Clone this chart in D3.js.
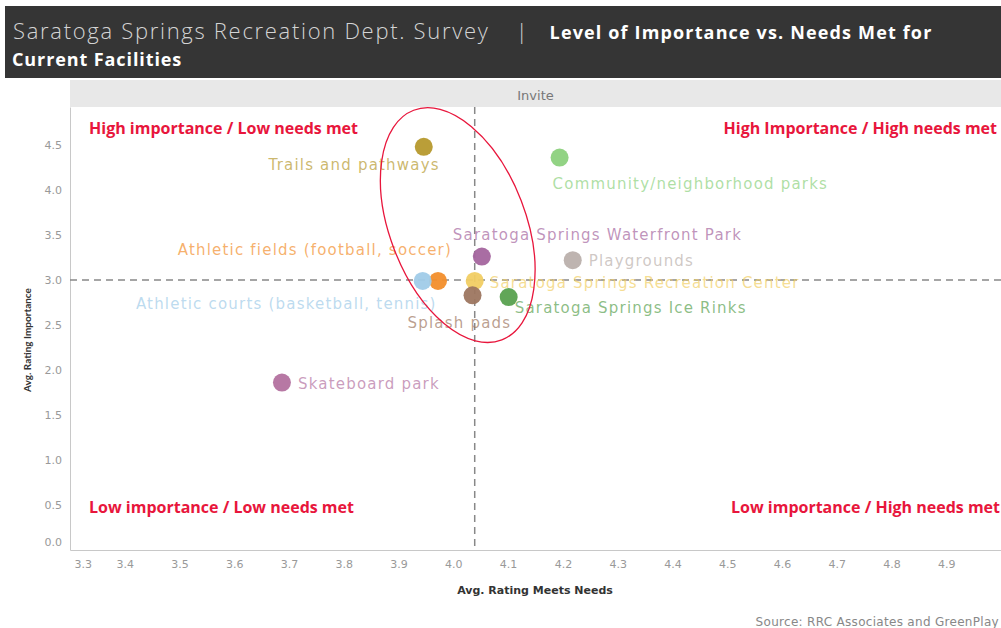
<!DOCTYPE html>
<html>
<head>
<meta charset="utf-8">
<script src="https://cdn.jsdelivr.net/npm/d3@7"></script>
<style>
  body { margin: 0; background: #fff; }
  svg { display: block; }
</style>
</head>
<body>
<div id="chart"></div>
<script>
  // data
  var facilities = [
    'Trails and pathways',
    'Community/neighborhood parks',
    'Saratoga Springs Waterfront Park',
    'Playgrounds',
    'Athletic fields (football, soccer)',
    'Athletic courts (basketball, tennis)',
    'Saratoga Springs Recreation Center',
    'Splash pads',
    'Saratoga Springs Ice Rinks',
    'Skateboard park'
  ];
  var needsMet   = [3.946, 4.194, 4.052, 4.218, 3.972, 3.944, 4.039, 4.035, 4.101, 3.687];
  var importance = [4.48, 4.36, 3.26, 3.22, 2.99, 2.99, 2.99, 2.83, 2.81, 1.86];
  var xTicks = [3.3, 3.4, 3.5, 3.6, 3.7, 3.8, 3.9, 4.0, 4.1, 4.2, 4.3, 4.4, 4.5, 4.6, 4.7, 4.8, 4.9];
  var yTicks = [0, 0.5, 1, 1.5, 2, 2.5, 3, 3.5, 4, 4.5];
  var avgNeedsMet = 4.039;
  var avgImportance = 3.0;
  var quadrants = [
    'High importance / Low needs met',
    'High Importance / High needs met',
    'Low importance / Low needs met',
    'Low importance / High needs met'
  ];

  var palette = ['#B6992D', '#8CD17D', '#A4659E', '#BAB0AC', '#F28E2B',
                 '#A0CBE8', '#F1CE63', '#9D7660', '#59A14F', '#B3719F'];

  // label placement relative to each mark (px)
  var labelPos = [
    {dx: 16, dy: 23, anchor: 'end'},
    {dx: -7, dy: 31, anchor: 'start'},
    {dx: -29, dy: -17, anchor: 'start'},
    {dx: 16, dy: 6, anchor: 'start'},
    {dx: 14, dy: -26, anchor: 'end'},
    {dx: 14, dy: 28, anchor: 'end'},
    {dx: 15, dy: 7, anchor: 'start'},
    {dx: -65, dy: 33, anchor: 'start'},
    {dx: 6, dy: 16, anchor: 'start'},
    {dx: 16, dy: 6, anchor: 'start'}
  ];

  var width = 1001, height = 628;
  var plot = {left: 70, right: 1001, top: 107, bottom: 550};
  var sans = '"Open Sans", sans-serif';
  var wide = '"DejaVu Sans", sans-serif';

  var svg = d3.select('#chart').append('svg')
      .attr('width', width)
      .attr('height', height)
      .style('font-family', sans);

  // header band
  svg.append('rect')
    .attr('x', 5).attr('y', 6).attr('width', width - 5).attr('height', 72)
    .attr('fill', '#353535');
  var title = svg.append('text')
    .attr('x', 13).attr('y', 39);
  title.append('tspan').attr('fill', '#d4d4d4')
    .style('font-weight', 300).style('font-size', '22px').style('letter-spacing', '1.7px')
    .text('Saratoga Springs Recreation Dept. Survey');
  title.append('tspan').attr('fill', '#d4d4d4').attr('dx', 26)
    .style('font-weight', 300).style('font-size', '22px')
    .text('|');
  title.append('tspan').attr('fill', '#fff').attr('dx', 22)
    .style('font-weight', 'bold').style('font-size', '18px').style('letter-spacing', '1.15px')
    .text('Level of Importance vs. Needs Met for');
  svg.append('text')
    .attr('x', 12).attr('y', 66)
    .attr('fill', '#fff')
    .style('font-weight', 'bold').style('font-size', '18px').style('letter-spacing', '0.9px')
    .text('Current Facilities');

  // pane header
  svg.append('rect')
    .attr('x', plot.left).attr('y', 80)
    .attr('width', plot.right - plot.left).attr('height', plot.top - 80)
    .attr('fill', '#e8e8e8');
  svg.append('text')
    .attr('x', (plot.left + plot.right) / 2).attr('y', 100)
    .attr('text-anchor', 'middle')
    .attr('fill', '#777')
    .style('font-family', wide)
    .style('font-size', '13px')
    .text('Invite');

  var x = d3.scaleLinear().domain([3.3, 5.0]).range([plot.left, plot.right]);
  var y = d3.scaleLinear().domain([0, 4.922]).range([plot.bottom, plot.top]);

  // axes
  var xAxis = svg.append('g')
    .attr('transform', 'translate(0,' + plot.bottom + ')')
    .call(d3.axisBottom(x).tickValues(xTicks).tickSize(0).tickPadding(10)
      .tickFormat(d3.format('.1f')));
  xAxis.select('.domain').attr('stroke', '#c8c8c8');
  xAxis.selectAll('text')
    .attr('fill', '#999')
    .style('font-family', wide)
    .style('font-size', '11px')
    .filter(function(d) { return d === 3.3; })
    .attr('text-anchor', 'start')
    .attr('dx', 4);

  var yAxis = svg.append('g')
    .attr('transform', 'translate(' + plot.left + ',0)')
    .call(d3.axisLeft(y).tickValues(yTicks).tickSize(0).tickPadding(8)
      .tickFormat(d3.format('.1f')));
  yAxis.select('.domain').attr('stroke', '#c8c8c8');
  yAxis.selectAll('text')
    .attr('fill', '#999')
    .style('font-family', wide)
    .style('font-size', '11px')
    .filter(function(d) { return d === 0; })
    .attr('dy', '-0.4em');

  svg.append('text')
    .attr('transform', 'translate(31,' + 340 + ') rotate(-90)')
    .attr('text-anchor', 'middle')
    .attr('fill', '#333')
    .style('font-family', 'Lato, sans-serif')
    .style('font-size', '10px').style('font-weight', 'bold')
    .text('Avg. Rating Importance');
  svg.append('text')
    .attr('x', 535).attr('y', 594)
    .attr('text-anchor', 'middle')
    .attr('fill', '#333')
    .style('font-family', wide)
    .style('font-size', '11px').style('font-weight', 'bold')
    .text('Avg. Rating Meets Needs');
  svg.append('text')
    .attr('x', 999).attr('y', 626)
    .attr('text-anchor', 'end')
    .attr('fill', '#888')
    .style('font-family', wide)
    .style('font-size', '12px').style('letter-spacing', '0.3px')
    .text('Source: RRC Associates and GreenPlay');

  // reference lines
  svg.append('line')
    .attr('x1', x(avgNeedsMet)).attr('x2', x(avgNeedsMet))
    .attr('y1', plot.top).attr('y2', plot.bottom)
    .attr('stroke', '#888').attr('stroke-width', 1.5)
    .attr('stroke-dasharray', '7,5');
  svg.append('line')
    .attr('x1', plot.left).attr('x2', plot.right)
    .attr('y1', y(avgImportance)).attr('y2', y(avgImportance))
    .attr('stroke', '#888').attr('stroke-width', 1.5)
    .attr('stroke-dasharray', '7,5');

  // quadrant captions
  var qPos = [
    {x: 89, y: 134, anchor: 'start'},
    {x: 997, y: 134, anchor: 'end'},
    {x: 89, y: 513, anchor: 'start'},
    {x: 1000, y: 513, anchor: 'end'}
  ];
  svg.selectAll('.quad')
    .data(quadrants)
    .enter().append('text')
    .attr('class', 'quad')
    .attr('x', function(d, i) { return qPos[i].x; })
    .attr('y', function(d, i) { return qPos[i].y; })
    .attr('text-anchor', function(d, i) { return qPos[i].anchor; })
    .attr('fill', '#E8163C')
    .style('font-size', '16px').style('font-weight', 'bold')
    .text(function(d) { return d; });

  var points = facilities.map(function(name, i) {
    return {name: name, x: needsMet[i], y: importance[i], color: palette[i], lp: labelPos[i]};
  });

  // labels
  svg.selectAll('.lbl')
    .data(points)
    .enter().append('text')
    .attr('class', 'lbl')
    .attr('x', function(d) { return x(d.x) + d.lp.dx; })
    .attr('y', function(d) { return y(d.y) + d.lp.dy; })
    .attr('text-anchor', function(d) { return d.lp.anchor; })
    .attr('fill', function(d) { return d.color; })
    .attr('fill-opacity', 0.7)
    .style('font-family', wide)
    .style('font-size', '15px')
    .style('letter-spacing', '1.2px')
    .text(function(d) { return d.name; });

  // marks
  svg.selectAll('.dot')
    .data(points)
    .enter().append('circle')
    .attr('class', 'dot')
    .attr('cx', function(d) { return x(d.x); })
    .attr('cy', function(d) { return y(d.y); })
    .attr('r', 9)
    .attr('fill', function(d) { return d.color; })
    .attr('fill-opacity', 0.95);

  // highlight ellipse
  svg.append('ellipse')
    .attr('transform', 'translate(' + x(4.008) + ',' + y(3.61) + ') rotate(-21)')
    .attr('rx', 68).attr('ry', 123)
    .attr('fill', 'none')
    .attr('stroke', '#E8163C')
    .attr('stroke-width', 1.3);
</script>
</body>
</html>
